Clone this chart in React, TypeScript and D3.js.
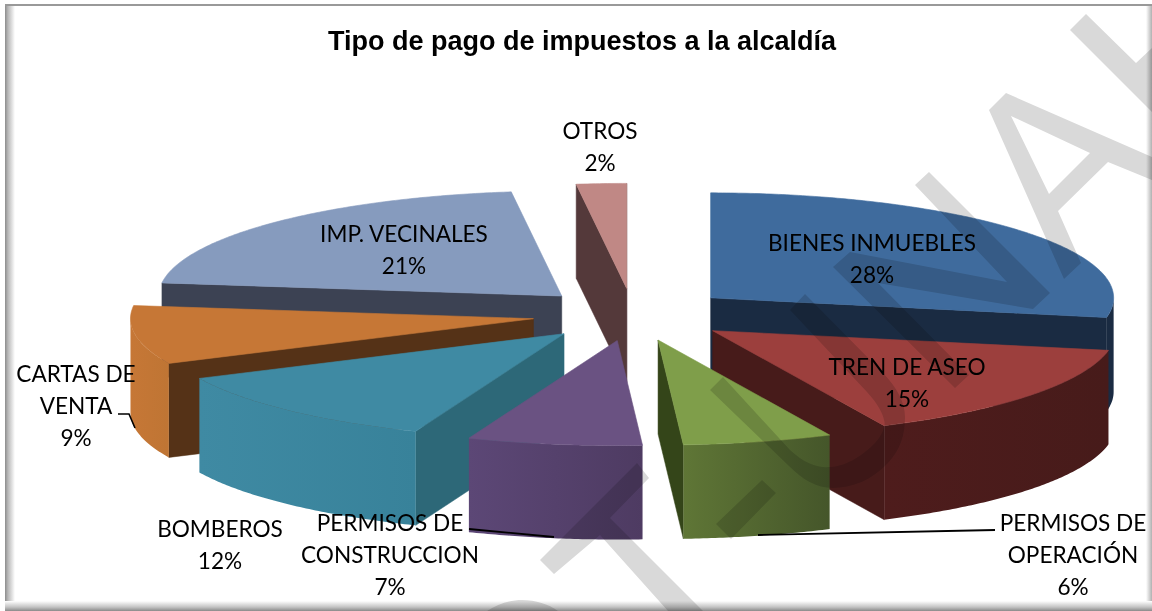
import React from "react";
import * as d3 from "d3";

const categories = ["BIENES INMUEBLES","TREN DE ASEO","PERMISOS DE OPERACIÓN","PERMISOS DE CONSTRUCCION","BOMBEROS","CARTAS DE VENTA","IMP. VECINALES","OTROS"];
const values = [28,15,6,7,12,9,21,2];
const labelLines = [["BIENES INMUEBLES"],["TREN DE ASEO"],["PERMISOS DE","OPERACIÓN"],["PERMISOS DE","CONSTRUCCION"],["BOMBEROS"],["CARTAS DE","VENTA"],["IMP. VECINALES"],["OTROS"]];
const labelCentres: [number,number][] = [[872,242],[907,366],[1073,522],[390,522],[220,528],[76,373],[404,233],[600,130]];
const topColors = ["#3F6B9D","#9C3F3D","#7F9E4A","#6A5282","#3F8AA3","#C67736","#869BBE","#C08885"];
const cutColors = ["#1A2B42","#471B1A","#344519","#3F3050","#2D6878","#553217","#3C4253","#54393A"];
const wallLeft = ["#1A2B42","#4E1C1C","#5F7636","#5C4776","#3F8AA3","#C67736","#3C4253","#54393A"];
const wallRight = ["#1A2B42","#471B1A","#45562A","#4E3B62","#38829A","#BF7534","#3C4253","#54393A"];

const CX = 633, CY = 314.6, RX = 403, RY = 105, DEPTH = 94, EXPLODE = 0.25;
const W = 1152, H = 611;

const px = d3.scaleLinear().domain([-1,1]).range([-RX,RX]);
const py = d3.scaleLinear().domain([-1,1]).range([-RY,RY]);
const line = d3.line<[number,number]>();
const pie = d3.pie<number>().sort(null).value(d => d);
const arcs = pie(values);

type Pt = [number,number];
function slice(i:number){
  const a = arcs[i].startAngle, b = arcs[i].endAngle, m=(a+b)/2;
  const ax = CX+px(EXPLODE*Math.sin(m)), ay = CY+py(-EXPLODE*Math.cos(m));
  const at = (t:number):Pt => [ax+px(Math.sin(t)), ay+py(-Math.cos(t))];
  const sample = (s:number,e:number):Pt[] => {
    const n = Math.max(2,Math.ceil((e-s)/0.01));
    return d3.range(n+1).map(k=>at(s+(e-s)*k/n));
  };
  const down = (p:Pt):Pt => [p[0],p[1]+DEPTH];
  const apex:Pt=[ax,ay];
  const top = line([apex,...sample(a,b)])+"Z";
  const faces:{d:string,fill:string,edge:string}[]=[];
  if(Math.sin(a)<0){const o=at(a);faces.push({d:line([apex,o,down(o),down(apex)])+"Z",fill:cutColors[i],edge:cutColors[i]});}
  if(Math.sin(b)>0){const o=at(b);faces.push({d:line([apex,o,down(o),down(apex)])+"Z",fill:cutColors[i],edge:cutColors[i]});}
  const ws=Math.max(a,Math.PI/2), we=Math.min(b,Math.PI*1.5);
  if(we>ws){
    const p=sample(ws,we);
    faces.push({d:line([...p,...p.slice().reverse().map(down)])+"Z",fill:`url(#wall${i})`,edge:"none"});
  }
  return {top,faces,depth:-Math.cos(m)};
}
const slices = categories.map((_,i)=>({i,...slice(i)})).sort((p,q)=>p.depth-q.depth);

const wmark = [
  "M1070 30L1086 14L1136 63L1152 48L1152 112Z",
  "M989 110L1006 93L1152 157L1152 180L1108 162L1058 211L1081 263L1064 279ZM1011 116L1049 194L1090 153Z",
  "M915 185L929 172L1050 293L1033 309L878 283L969 375L955 388L833 267L850 252L1007 282Z",
  "M790 310L805 294L883 373C897 388 905 402 905 417C905 436 900 450 888 463C872 480 852 488 833 488C816 488 802 479 790 467L710 390L723 377L790 450C805 464 818 468 830 467C848 466 864 454 875 443C883 434 886 425 884 420C883 414 878 404 867 392Z",
  "M716 524L762 480L776 493L731 539Z",
  "M637 463L649 478L610 518L703 611L668 611L600 535L554 574L540 560Z",
  "M487 611C498 604 510 600 522 600C536 600 548 604 558 611Z",
];

export default function App(){
  return (
    <svg width={W} height={H} viewBox={`0 0 ${W} ${H}`} style={{position:"absolute",left:0,top:0,display:"block",background:"#fff"}}>
      <defs>
        {categories.map((_,i)=>(
          <linearGradient key={i} id={`wall${i}`} x1="0" x2="1" y1="0" y2="0">
            <stop offset="0" stopColor={wallLeft[i]}/>
            <stop offset="1" stopColor={wallRight[i]}/>
          </linearGradient>
        ))}
        <linearGradient id="fl" x1="0" x2="1" y1="0" y2="0"><stop offset="0" stopColor="#8c8c8c"/><stop offset="0.3" stopColor="#b8b8b8"/><stop offset="1" stopColor="#fff"/></linearGradient>
        <linearGradient id="fr" x1="0" x2="1" y1="0" y2="0"><stop offset="0" stopColor="#fff"/><stop offset="1" stopColor="#b0b0b0"/></linearGradient>
        <linearGradient id="fb" x1="0" x2="0" y1="0" y2="1"><stop offset="0" stopColor="#fff"/><stop offset="0.6" stopColor="#c4c4c4"/><stop offset="1" stopColor="#8a8a8a"/></linearGradient>
      </defs>
      <rect x={5} y={4} width={W-5} height={H-4} fill="#fff"/>
      <rect x={5} y={5} width={10} height={H-5} fill="url(#fl)"/>
      <rect x={W-6} y={5} width={6} height={H-5} fill="url(#fr)"/>
      <rect x={5} y={601} width={W-5} height={10} fill="url(#fb)"/>
      <rect x={5} y={4} width={W-5} height={2} fill="#999"/>
      <text x={582} y={50} textAnchor="middle" fontFamily="'Liberation Sans'" fontWeight="bold" fontSize={27} fill="#000">Tipo de pago de impuestos a la alcaldía</text>
      {slices.map(s=>(
        <g key={s.i}>
          {s.faces.map((f,k)=><path key={k} d={f.d} fill={f.fill} stroke={f.edge} strokeWidth={0.5}/>)}
          <path d={s.top} fill={topColors[s.i]} stroke={topColors[s.i]} strokeWidth={0.6}/>
        </g>
      ))}
      <g fill="none" stroke="#000">
        <path d="M995 530L758 535" strokeWidth={1.8}/>
        <path d="M469 529L554 537" strokeWidth={1.8}/>
        <path d="M118 414L129 414L135 428" strokeWidth={1.6}/>
      </g>
      <g fontFamily="Lato" fontSize={22.6} fill="#000" textAnchor="middle">
        {categories.map((_,i)=>{
          const lines=[...labelLines[i],`${values[i]}%`];
          return <text key={i}>{lines.map((l,k)=><tspan key={k} x={labelCentres[i][0]} y={labelCentres[i][1]+32*k+8.5}>{l}</tspan>)}</text>;
        })}
      </g>
      <g fill="#d9d9d9" fillRule="evenodd" style={{mixBlendMode:"multiply"}}>
        {wmark.map((d,i)=><path key={i} d={d}/>)}
      </g>
    </svg>
  );
}
